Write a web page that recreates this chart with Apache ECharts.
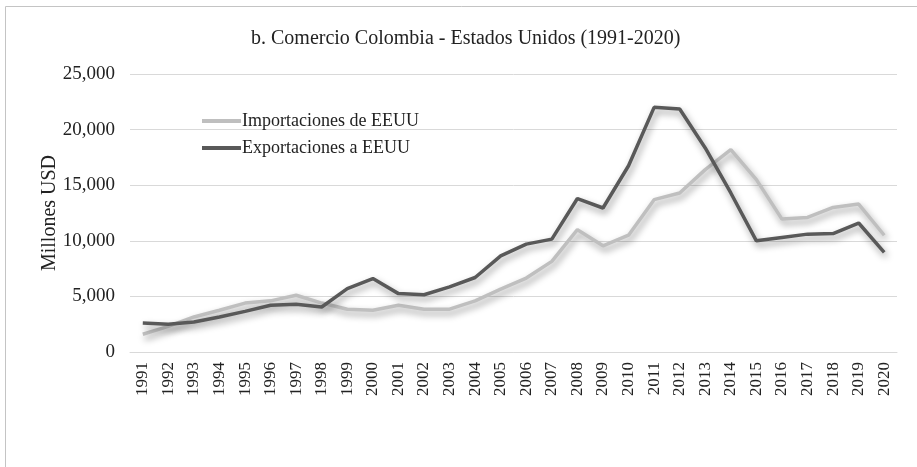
<!DOCTYPE html>
<html>
<head>
<meta charset="utf-8">
<script src="https://cdn.jsdelivr.net/npm/echarts@6/dist/echarts.min.js"></script>
<style>
  html, body { margin: 0; padding: 0; background: #fff; }
  #chart { width: 917px; height: 467px; }
</style>
</head>
<body>
<div id="chart"></div>
<script>
// years on the x axis
const years = ['1991', '1992', '1993', '1994', '1995', '1996', '1997', '1998', '1999', '2000',
  '2001', '2002', '2003', '2004', '2005', '2006', '2007', '2008', '2009', '2010',
  '2011', '2012', '2013', '2014', '2015', '2016', '2017', '2018', '2019', '2020']

// millones USD
const importaciones = [1600, 2300, 3150, 3750, 4400, 4600, 5100, 4400, 3850, 3750,
  4200, 3850, 3850, 4600, 5650, 6650, 8150, 11000, 9550, 10500,
  13700, 14300, 16400, 18200, 15500, 11950, 12100, 13000, 13300, 10500]
const exportaciones = [2600, 2500, 2700, 3150, 3650, 4200, 4300, 4050, 5700, 6600,
  5250, 5150, 5850, 6700, 8650, 9700, 10150, 13800, 12950, 16750,
  22000, 21850, 18350, 14300, 10000, 10300, 10600, 10650, 11600, 8950]

const yTicks = [0, 5000, 10000, 15000, 20000, 25000]

const font = '"Liberation Serif", "Times New Roman", serif'
const lightColor = '#bfbfbf'
const darkColor = '#595959'

let chart = echarts.init(document.getElementById('chart'))

let option = {
  animation: false,
  textStyle: { fontFamily: font },
  graphic: [{
    type: 'rect',
    shape: { x: 5.5, y: 6.5, width: 1000, height: 1000 },
    style: { fill: 'none', stroke: '#c4c4c4', lineWidth: 1 }
  }],
  title: {
    text: 'b. Comercio Colombia - Estados Unidos (1991-2020)',
    left: 246,
    top: 24,
    textStyle: { fontFamily: font, fontSize: 20, fontWeight: 'normal', color: '#222' }
  },
  legend: {
    orient: 'vertical',
    left: 197,
    top: 107,
    itemWidth: 39,
    itemHeight: 4,
    itemGap: 9,
    icon: 'rect',
    textStyle: { fontFamily: font, fontSize: 18, color: '#222', padding: [0, 0, 0, -4] },
    data: ['Importaciones de EEUU', 'Exportaciones a EEUU']
  },
  grid: { left: 130, right: 20, top: 74, bottom: 115 },
  xAxis: {
    type: 'category',
    data: years,
    boundaryGap: true,
    axisLine: { show: true, lineStyle: { color: '#d9d9d9', width: 1 } },
    axisTick: { show: false },
    axisLabel: { rotate: 90, fontFamily: font, fontSize: 17, color: '#222', margin: 10, interval: 0 }
  },
  yAxis: {
    type: 'value',
    min: yTicks[0],
    max: yTicks[yTicks.length - 1],
    interval: 5000,
    name: 'Millones USD',
    nameLocation: 'middle',
    nameMoveOverlap: false,
    nameGap: 70,
    nameTextStyle: { fontFamily: font, fontSize: 20, color: '#222' },
    axisLine: { show: false },
    axisTick: { show: false },
    splitLine: { lineStyle: { color: '#d9d9d9', width: 1 } },
    axisLabel: {
      fontFamily: font, fontSize: 19, color: '#222', margin: 15,
      formatter: v => v.toLocaleString('en-US')
    }
  },
  series: [
    {
      name: 'Importaciones de EEUU',
      type: 'line',
      data: importaciones,
      symbol: 'none',
      color: lightColor,
      lineStyle: {
        width: 3.5, color: lightColor,
        shadowColor: 'rgba(0,0,0,0.4)', shadowBlur: 7, shadowOffsetX: 2, shadowOffsetY: 4
      }
    },
    {
      name: 'Exportaciones a EEUU',
      type: 'line',
      data: exportaciones,
      symbol: 'none',
      color: darkColor,
      lineStyle: {
        width: 3.5, color: darkColor,
        shadowColor: 'rgba(0,0,0,0.4)', shadowBlur: 7, shadowOffsetX: 2, shadowOffsetY: 4
      }
    }
  ]
}

chart.setOption(option)
</script>
</body>
</html>
